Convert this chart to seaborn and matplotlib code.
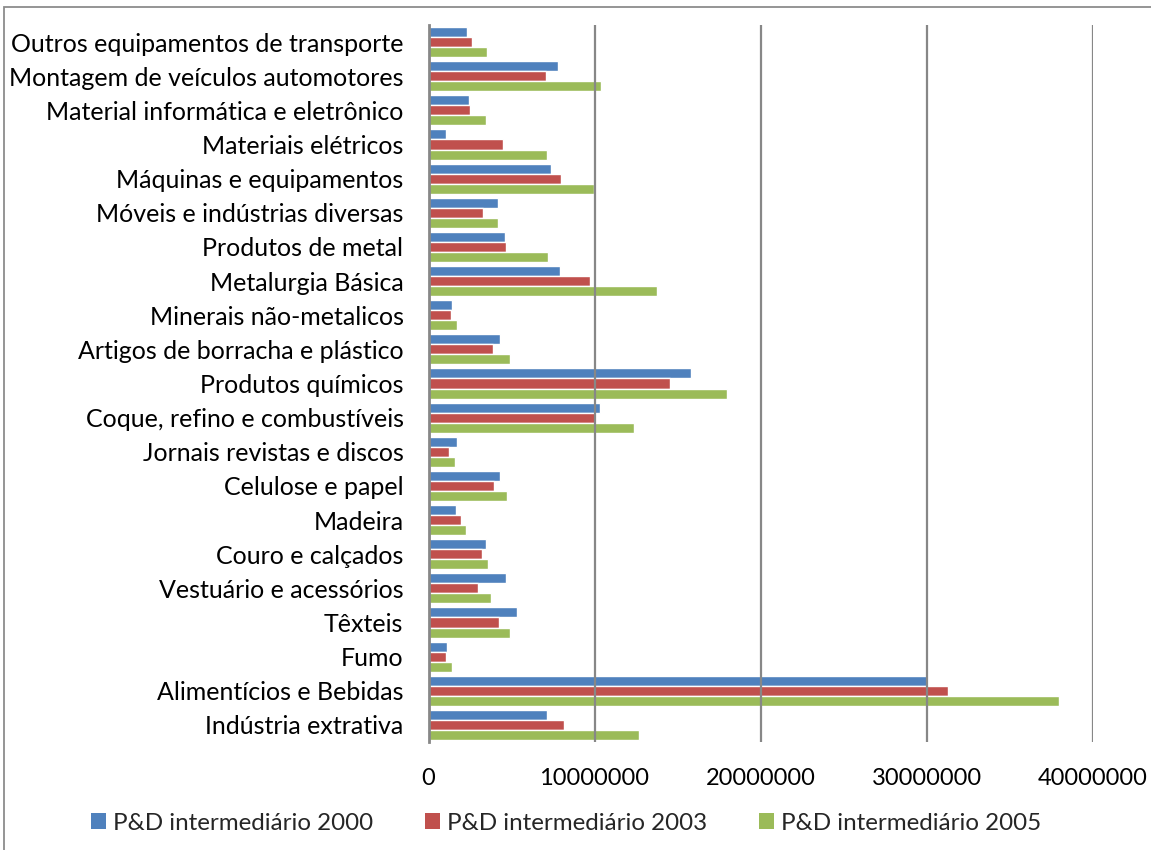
import matplotlib
matplotlib.use("Agg")
import matplotlib.pyplot as plt
from matplotlib.patches import Rectangle, Patch
import seaborn as sns
import pandas as pd

# Industrial sectors, listed top to bottom
setores = [
    "Outros equipamentos de transporte",
    "Montagem de veículos automotores",
    "Material informática e eletrônico",
    "Materiais elétricos",
    "Máquinas e equipamentos",
    "Móveis e indústrias diversas",
    "Produtos de metal",
    "Metalurgia Básica",
    "Minerais não-metalicos",
    "Artigos de borracha e plástico",
    "Produtos químicos",
    "Coque, refino e combustíveis",
    "Jornais revistas e discos",
    "Celulose e papel",
    "Madeira",
    "Couro e calçados",
    "Vestuário e acessórios",
    "Têxteis",
    "Fumo",
    "Alimentícios e Bebidas",
    "Indústria extrativa",
]

pd_2000 = [2340000, 7780000, 2440000, 1070000, 7360000, 4200000, 4620000,
           7920000, 1400000, 4290000, 15790000, 10330000, 1700000, 4310000,
           1640000, 3460000, 4650000, 5330000, 1110000, 30000000, 7120000]
pd_2003 = [2600000, 7080000, 2490000, 4470000, 7960000, 3300000, 4660000,
           9730000, 1380000, 3890000, 14550000, 10030000, 1250000, 3950000,
           1940000, 3200000, 3000000, 4270000, 1050000, 31290000, 8160000]
pd_2005 = [3500000, 10390000, 3440000, 7120000, 9970000, 4180000, 7180000,
           13780000, 1700000, 4930000, 18000000, 12400000, 1620000, 4750000,
           2280000, 3600000, 3760000, 4890000, 1430000, 38000000, 12700000]

series_labels = ["P&D intermediário 2000", "P&D intermediário 2003",
                 "P&D intermediário 2005"]
cores = ["#4F81BD", "#C0504D", "#9BBB59"]
x_ticks = [0, 10000000, 20000000, 30000000, 40000000]

df = pd.DataFrame({
    "setor": setores * 3,
    "valor": pd_2000 + pd_2003 + pd_2005,
    "serie": [series_labels[0]] * len(setores)
             + [series_labels[1]] * len(setores)
             + [series_labels[2]] * len(setores),
})

sns.set_theme(style="white")
plt.rcParams["font.family"] = ["Lato", "DejaVu Sans"]

FS_Y = 18.0
FS_X = 17.0
FS_LEG = 17.4

fig = plt.figure(figsize=(11.51, 8.5), dpi=100)
ax = fig.add_axes([428.5 / 1151, 1 - 742 / 850, (1092.5 - 428.5) / 1151, (742 - 25) / 850])

sns.barplot(data=df, y="setor", x="valor", hue="serie", order=setores,
            hue_order=series_labels, palette=cores, orient="h", width=0.88,
            edgecolor="white", linewidth=1.0, saturation=1, ax=ax, legend=False)

ax.set_xlim(0, 40000000)
ax.set_xticks(x_ticks)
ax.set_xticklabels([str(v) for v in x_ticks])
ax.set_xlabel("")
ax.set_ylabel("")
ax.tick_params(axis="both", length=0, colors="black")
ax.tick_params(axis="x", pad=19, labelsize=FS_X)
ax.tick_params(axis="y", pad=18, labelsize=FS_Y)

grid_color = "#878787"
ax.set_axisbelow(False)
ax.xaxis.grid(True, color=grid_color, linewidth=1.6)
ax.yaxis.grid(False)
for side in ["top", "right", "bottom"]:
    ax.spines[side].set_visible(False)
ax.spines["left"].set_color(grid_color)
ax.spines["left"].set_linewidth(2.0)
ax.spines["left"].set_zorder(5)

handles = [Patch(facecolor=c, edgecolor="none", label=l) for c, l in zip(cores, series_labels)]
fig.legend(handles=handles, loc="center", bbox_to_anchor=(566 / 1151, 1 - 823 / 850),
           ncol=3, frameon=False, fontsize=FS_LEG, handlelength=0.62, handleheight=0.62,
           handletextpad=0.28, columnspacing=2.15, borderpad=0)

# outer chart frame
fig.patches.append(Rectangle((4 / 1151, -0.1), 1.2, (850 - 7) / 850 + 0.1,
                             transform=fig.transFigure, fill=False,
                             edgecolor="#8c8c8c", linewidth=1.3))

fig.savefig("out.png", dpi=100)
